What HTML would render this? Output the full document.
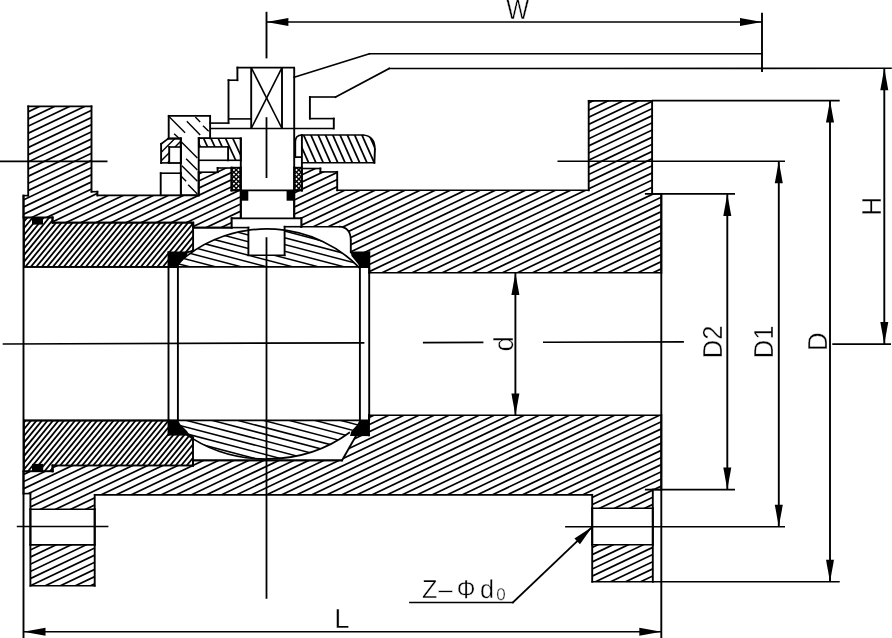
<!DOCTYPE html>
<html><head><meta charset="utf-8"><title>Ball valve</title>
<style>html,body{margin:0;padding:0;background:#fff;}svg{display:block}text{font-family:"Liberation Sans",sans-serif;fill:#000;stroke:#fff;stroke-width:0.4px;text-rendering:geometricPrecision}svg{will-change:transform}</style>
</head><body>
<svg width="892" height="638" viewBox="0 0 892 638" stroke="#000" fill="none" stroke-linecap="butt" stroke-linejoin="miter">
<defs><clipPath id="c1"><path d="M28.20,106.40 L91.50,106.40 L91.50,191.70 L97.40,191.70 L97.40,195.40 L198.70,195.40 L198.70,172.20 L217.60,172.20 L217.60,168.00 L231.50,168.00 L231.50,190.40 L240.80,190.40 L240.80,218.40 L231.70,218.40 L231.70,227.60 L193.30,227.60 L193.30,222.60 L52.60,222.60 L52.60,217.50 L23.50,217.50 L23.50,195.60 L28.20,195.60 Z" clip-rule="evenodd"/></clipPath><clipPath id="c2"><path d="M294.2,190.4 L294.2,218.4 L301.3,218.4 L301.3,226.7 L339,226.7 Q350.8,227.2 350.8,240.5 L350.8,252.3 L369.3,252.3 L369.3,272.7 L661.3,272.7 L661.3,193.9 L652.1,193.9 L652.1,100.9 L588.7,100.9 L588.7,190.3 L337.2,190.3 L337.2,171.9 L320.4,171.9 L320.4,168.5 L301.9,168.5 L301.9,190.4 Z" clip-rule="evenodd"/></clipPath><clipPath id="c3"><path d="M23.5,471.3 L52.6,471.3 L52.6,465.5 L193,465.5 L193,460.4 L342,460.4 L356.3,435.3 L369,435.3 L369,415.2 L661.3,415.2 L661.3,489.6 L652.8,489.6 L652.8,581.7 L592.2,581.7 L592.2,494.9 L94.7,494.9 L94.7,585.7 L30.4,585.7 L30.4,493.6 L23.5,493.6 Z M30.4,509.2 L94.7,509.2 L94.7,544.9 L30.4,544.9 Z M592.2,508.2 L652.8,508.2 L652.8,544.8 L592.2,544.8 Z" clip-rule="evenodd"/></clipPath><clipPath id="c4"><path d="M23.90,217.50 L52.40,217.50 L52.60,222.60 L191.20,222.60 L193.10,224.50 L193.10,250.60 L187.70,252.30 L168.50,252.30 L168.50,266.90 L23.90,266.90 Z" clip-rule="evenodd"/></clipPath><clipPath id="c5"><path d="M23.90,420.60 L168.50,420.60 L168.50,434.80 L189.00,434.80 L193.00,437.50 L193.00,465.50 L52.60,465.50 L52.60,471.30 L23.90,471.30 Z" clip-rule="evenodd"/></clipPath><clipPath id="c6"><path d="M177.5,266.9 L177.5,263.92 A124,115.0 0 0 1 360.0,268.46 L360.0,266.9 Z" clip-rule="evenodd"/></clipPath><clipPath id="c7"><path d="M177.5,420.4 L177.5,427.82 A130.0,115.0 0 0 0 360.0,423.90 L360.0,420.4 Z" clip-rule="evenodd"/></clipPath><clipPath id="c8"><path d="M231.60,167.60 L240.80,167.60 L240.80,190.40 L231.60,190.40 Z" clip-rule="evenodd"/></clipPath><clipPath id="c9"><path d="M231.60,167.60 L240.80,167.60 L240.80,190.40 L231.60,190.40 Z" clip-rule="evenodd"/></clipPath><clipPath id="c10"><path d="M294.20,167.60 L301.80,167.60 L301.80,190.40 L294.20,190.40 Z" clip-rule="evenodd"/></clipPath><clipPath id="c11"><path d="M294.20,167.60 L301.80,167.60 L301.80,190.40 L294.20,190.40 Z" clip-rule="evenodd"/></clipPath><clipPath id="c12"><path d="M198.90,138.30 L240.80,138.30 L240.80,160.30 L228.10,160.30 L228.10,146.90 L198.90,146.90 Z" clip-rule="evenodd"/></clipPath><clipPath id="c13"><path d="M168.70,115.90 L210.10,115.90 L210.10,138.20 L198.70,138.20 L198.70,195.20 L180.80,195.20 L180.80,138.20 L168.70,138.20 Z"/></clipPath><clipPath id="c14"><path d="M161.10,162.90 L161.10,143.90 L167.80,138.90 L180.80,138.90 L180.80,162.90 Z" clip-rule="evenodd"/></clipPath><clipPath id="c15"><path d="M301.9,135.0 L362.8,135.0 Q374.9,135.6 374.9,149.5 L374.4,162.8 L301.9,162.8 Z" clip-rule="evenodd"/></clipPath></defs>
<rect x="0" y="0" width="892" height="638" fill="#fff" stroke="none"/>
<g clip-path="url(#c1)" stroke-width="1.7"><line x1="20.00" y1="101.40" x2="245.00" y2="-5.59"/><line x1="20.00" y1="108.55" x2="245.00" y2="1.57"/><line x1="20.00" y1="115.71" x2="245.00" y2="8.72"/><line x1="20.00" y1="122.87" x2="245.00" y2="15.88"/><line x1="20.00" y1="130.02" x2="245.00" y2="23.03"/><line x1="20.00" y1="137.18" x2="245.00" y2="30.19"/><line x1="20.00" y1="144.33" x2="245.00" y2="37.35"/><line x1="20.00" y1="151.49" x2="245.00" y2="44.50"/><line x1="20.00" y1="158.65" x2="245.00" y2="51.66"/><line x1="20.00" y1="165.80" x2="245.00" y2="58.82"/><line x1="20.00" y1="172.96" x2="245.00" y2="65.97"/><line x1="20.00" y1="180.12" x2="245.00" y2="73.13"/><line x1="20.00" y1="187.27" x2="245.00" y2="80.28"/><line x1="20.00" y1="194.43" x2="245.00" y2="87.44"/><line x1="20.00" y1="201.58" x2="245.00" y2="94.60"/><line x1="20.00" y1="208.74" x2="245.00" y2="101.75"/><line x1="20.00" y1="215.90" x2="245.00" y2="108.91"/><line x1="20.00" y1="223.05" x2="245.00" y2="116.07"/><line x1="20.00" y1="230.21" x2="245.00" y2="123.22"/><line x1="20.00" y1="237.37" x2="245.00" y2="130.38"/><line x1="20.00" y1="244.52" x2="245.00" y2="137.53"/><line x1="20.00" y1="251.68" x2="245.00" y2="144.69"/><line x1="20.00" y1="258.83" x2="245.00" y2="151.85"/><line x1="20.00" y1="265.99" x2="245.00" y2="159.00"/><line x1="20.00" y1="273.15" x2="245.00" y2="166.16"/><line x1="20.00" y1="280.30" x2="245.00" y2="173.32"/><line x1="20.00" y1="287.46" x2="245.00" y2="180.47"/><line x1="20.00" y1="294.62" x2="245.00" y2="187.63"/><line x1="20.00" y1="301.77" x2="245.00" y2="194.78"/><line x1="20.00" y1="308.93" x2="245.00" y2="201.94"/><line x1="20.00" y1="316.08" x2="245.00" y2="209.10"/><line x1="20.00" y1="323.24" x2="245.00" y2="216.25"/><line x1="20.00" y1="330.40" x2="245.00" y2="223.41"/><line x1="20.00" y1="337.55" x2="245.00" y2="230.57"/></g>
<line x1="28.20" y1="106.40" x2="91.50" y2="106.40" stroke-width="1.60" stroke-linecap="square" />
<line x1="91.50" y1="106.40" x2="91.50" y2="191.70" stroke-width="1.90" stroke-linecap="square" />
<line x1="91.50" y1="191.70" x2="97.40" y2="191.70" stroke-width="1.60" stroke-linecap="square" />
<line x1="97.40" y1="191.70" x2="97.40" y2="195.40" stroke-width="1.90" stroke-linecap="square" />
<line x1="97.40" y1="195.40" x2="198.70" y2="195.40" stroke-width="1.60" stroke-linecap="square" />
<line x1="198.70" y1="195.40" x2="198.70" y2="172.20" stroke-width="1.90" stroke-linecap="square" />
<line x1="198.70" y1="172.20" x2="217.60" y2="172.20" stroke-width="1.60" stroke-linecap="square" />
<line x1="217.60" y1="172.20" x2="217.60" y2="168.00" stroke-width="1.90" stroke-linecap="square" />
<line x1="217.60" y1="168.00" x2="231.50" y2="168.00" stroke-width="1.60" stroke-linecap="square" />
<line x1="231.50" y1="168.00" x2="231.50" y2="190.40" stroke-width="1.90" stroke-linecap="square" />
<line x1="231.50" y1="190.40" x2="240.80" y2="190.40" stroke-width="1.60" stroke-linecap="square" />
<line x1="240.80" y1="190.40" x2="240.80" y2="218.40" stroke-width="1.90" stroke-linecap="square" />
<line x1="240.80" y1="218.40" x2="231.70" y2="218.40" stroke-width="1.60" stroke-linecap="square" />
<line x1="231.70" y1="218.40" x2="231.70" y2="227.60" stroke-width="1.90" stroke-linecap="square" />
<line x1="231.70" y1="227.60" x2="193.30" y2="227.60" stroke-width="1.60" stroke-linecap="square" />
<line x1="193.30" y1="227.60" x2="193.30" y2="222.60" stroke-width="1.90" stroke-linecap="square" />
<line x1="193.30" y1="222.60" x2="52.60" y2="222.60" stroke-width="1.60" stroke-linecap="square" />
<line x1="52.60" y1="222.60" x2="52.60" y2="217.50" stroke-width="1.90" stroke-linecap="square" />
<line x1="52.60" y1="217.50" x2="23.50" y2="217.50" stroke-width="1.60" stroke-linecap="square" />
<line x1="23.50" y1="217.50" x2="23.50" y2="195.60" stroke-width="1.90" stroke-linecap="square" />
<line x1="23.50" y1="195.60" x2="28.20" y2="195.60" stroke-width="1.60" stroke-linecap="square" />
<line x1="28.20" y1="195.60" x2="28.20" y2="106.40" stroke-width="1.90" stroke-linecap="square" />
<g clip-path="url(#c2)" stroke-width="1.7"><line x1="290.00" y1="101.82" x2="665.00" y2="-76.49"/><line x1="290.00" y1="108.98" x2="665.00" y2="-69.33"/><line x1="290.00" y1="116.14" x2="665.00" y2="-62.18"/><line x1="290.00" y1="123.29" x2="665.00" y2="-55.02"/><line x1="290.00" y1="130.45" x2="665.00" y2="-47.86"/><line x1="290.00" y1="137.61" x2="665.00" y2="-40.71"/><line x1="290.00" y1="144.76" x2="665.00" y2="-33.55"/><line x1="290.00" y1="151.92" x2="665.00" y2="-26.39"/><line x1="290.00" y1="159.07" x2="665.00" y2="-19.24"/><line x1="290.00" y1="166.23" x2="665.00" y2="-12.08"/><line x1="290.00" y1="173.39" x2="665.00" y2="-4.93"/><line x1="290.00" y1="180.54" x2="665.00" y2="2.23"/><line x1="290.00" y1="187.70" x2="665.00" y2="9.39"/><line x1="290.00" y1="194.86" x2="665.00" y2="16.54"/><line x1="290.00" y1="202.01" x2="665.00" y2="23.70"/><line x1="290.00" y1="209.17" x2="665.00" y2="30.86"/><line x1="290.00" y1="216.32" x2="665.00" y2="38.01"/><line x1="290.00" y1="223.48" x2="665.00" y2="45.17"/><line x1="290.00" y1="230.64" x2="665.00" y2="52.32"/><line x1="290.00" y1="237.79" x2="665.00" y2="59.48"/><line x1="290.00" y1="244.95" x2="665.00" y2="66.64"/><line x1="290.00" y1="252.11" x2="665.00" y2="73.79"/><line x1="290.00" y1="259.26" x2="665.00" y2="80.95"/><line x1="290.00" y1="266.42" x2="665.00" y2="88.11"/><line x1="290.00" y1="273.58" x2="665.00" y2="95.26"/><line x1="290.00" y1="280.73" x2="665.00" y2="102.42"/><line x1="290.00" y1="287.89" x2="665.00" y2="109.58"/><line x1="290.00" y1="295.04" x2="665.00" y2="116.73"/><line x1="290.00" y1="302.20" x2="665.00" y2="123.89"/><line x1="290.00" y1="309.36" x2="665.00" y2="131.04"/><line x1="290.00" y1="316.51" x2="665.00" y2="138.20"/><line x1="290.00" y1="323.67" x2="665.00" y2="145.36"/><line x1="290.00" y1="330.83" x2="665.00" y2="152.51"/><line x1="290.00" y1="337.98" x2="665.00" y2="159.67"/><line x1="290.00" y1="345.14" x2="665.00" y2="166.83"/><line x1="290.00" y1="352.29" x2="665.00" y2="173.98"/><line x1="290.00" y1="359.45" x2="665.00" y2="181.14"/><line x1="290.00" y1="366.61" x2="665.00" y2="188.29"/><line x1="290.00" y1="373.76" x2="665.00" y2="195.45"/><line x1="290.00" y1="380.92" x2="665.00" y2="202.61"/><line x1="290.00" y1="388.08" x2="665.00" y2="209.76"/><line x1="290.00" y1="395.23" x2="665.00" y2="216.92"/><line x1="290.00" y1="402.39" x2="665.00" y2="224.08"/><line x1="290.00" y1="409.54" x2="665.00" y2="231.23"/><line x1="290.00" y1="416.70" x2="665.00" y2="238.39"/><line x1="290.00" y1="423.86" x2="665.00" y2="245.54"/><line x1="290.00" y1="431.01" x2="665.00" y2="252.70"/><line x1="290.00" y1="438.17" x2="665.00" y2="259.86"/><line x1="290.00" y1="445.33" x2="665.00" y2="267.01"/><line x1="290.00" y1="452.48" x2="665.00" y2="274.17"/></g>
<line x1="294.20" y1="190.40" x2="294.20" y2="218.40" stroke-width="1.90" stroke-linecap="square" />
<line x1="294.20" y1="218.40" x2="301.30" y2="218.40" stroke-width="1.60" stroke-linecap="square" />
<line x1="301.30" y1="218.40" x2="301.30" y2="226.70" stroke-width="1.90" stroke-linecap="square" />
<line x1="301.30" y1="226.70" x2="339.00" y2="226.70" stroke-width="1.60" stroke-linecap="square" />
<path d="M339.0,226.7 Q350.8,227.2 350.8,240.5" stroke-width="1.75" fill="none" />
<line x1="350.80" y1="240.50" x2="350.80" y2="252.30" stroke-width="1.90" stroke-linecap="square" />
<line x1="350.80" y1="252.30" x2="369.30" y2="252.30" stroke-width="1.60" stroke-linecap="square" />
<line x1="369.30" y1="252.30" x2="369.30" y2="272.70" stroke-width="1.90" stroke-linecap="square" />
<line x1="369.30" y1="272.70" x2="661.30" y2="272.70" stroke-width="1.60" stroke-linecap="square" />
<line x1="661.30" y1="272.70" x2="661.30" y2="193.90" stroke-width="1.90" stroke-linecap="square" />
<line x1="661.30" y1="193.90" x2="652.10" y2="193.90" stroke-width="1.60" stroke-linecap="square" />
<line x1="652.10" y1="193.90" x2="652.10" y2="100.90" stroke-width="1.90" stroke-linecap="square" />
<line x1="652.10" y1="100.90" x2="588.70" y2="100.90" stroke-width="1.60" stroke-linecap="square" />
<line x1="588.70" y1="100.90" x2="588.70" y2="190.30" stroke-width="1.90" stroke-linecap="square" />
<line x1="588.70" y1="190.30" x2="337.20" y2="190.30" stroke-width="1.60" stroke-linecap="square" />
<line x1="337.20" y1="190.30" x2="337.20" y2="171.90" stroke-width="1.90" stroke-linecap="square" />
<line x1="337.20" y1="171.90" x2="320.40" y2="171.90" stroke-width="1.60" stroke-linecap="square" />
<line x1="320.40" y1="171.90" x2="320.40" y2="168.50" stroke-width="1.90" stroke-linecap="square" />
<line x1="320.40" y1="168.50" x2="301.90" y2="168.50" stroke-width="1.60" stroke-linecap="square" />
<line x1="301.90" y1="168.50" x2="301.90" y2="190.40" stroke-width="1.90" stroke-linecap="square" />
<line x1="301.90" y1="190.40" x2="294.20" y2="190.40" stroke-width="1.60" stroke-linecap="square" />
<g clip-path="url(#c3)" stroke-width="1.7"><line x1="20.00" y1="411.73" x2="665.00" y2="105.03"/><line x1="20.00" y1="418.89" x2="665.00" y2="112.19"/><line x1="20.00" y1="426.04" x2="665.00" y2="119.35"/><line x1="20.00" y1="433.20" x2="665.00" y2="126.50"/><line x1="20.00" y1="440.36" x2="665.00" y2="133.66"/><line x1="20.00" y1="447.51" x2="665.00" y2="140.82"/><line x1="20.00" y1="454.67" x2="665.00" y2="147.97"/><line x1="20.00" y1="461.83" x2="665.00" y2="155.13"/><line x1="20.00" y1="468.98" x2="665.00" y2="162.28"/><line x1="20.00" y1="476.14" x2="665.00" y2="169.44"/><line x1="20.00" y1="483.29" x2="665.00" y2="176.60"/><line x1="20.00" y1="490.45" x2="665.00" y2="183.75"/><line x1="20.00" y1="497.61" x2="665.00" y2="190.91"/><line x1="20.00" y1="504.76" x2="665.00" y2="198.07"/><line x1="20.00" y1="511.92" x2="665.00" y2="205.22"/><line x1="20.00" y1="519.08" x2="665.00" y2="212.38"/><line x1="20.00" y1="526.23" x2="665.00" y2="219.53"/><line x1="20.00" y1="533.39" x2="665.00" y2="226.69"/><line x1="20.00" y1="540.54" x2="665.00" y2="233.85"/><line x1="20.00" y1="547.70" x2="665.00" y2="241.00"/><line x1="20.00" y1="554.86" x2="665.00" y2="248.16"/><line x1="20.00" y1="562.01" x2="665.00" y2="255.32"/><line x1="20.00" y1="569.17" x2="665.00" y2="262.47"/><line x1="20.00" y1="576.33" x2="665.00" y2="269.63"/><line x1="20.00" y1="583.48" x2="665.00" y2="276.78"/><line x1="20.00" y1="590.64" x2="665.00" y2="283.94"/><line x1="20.00" y1="597.79" x2="665.00" y2="291.10"/><line x1="20.00" y1="604.95" x2="665.00" y2="298.25"/><line x1="20.00" y1="612.11" x2="665.00" y2="305.41"/><line x1="20.00" y1="619.26" x2="665.00" y2="312.57"/><line x1="20.00" y1="626.42" x2="665.00" y2="319.72"/><line x1="20.00" y1="633.58" x2="665.00" y2="326.88"/><line x1="20.00" y1="640.73" x2="665.00" y2="334.03"/><line x1="20.00" y1="647.89" x2="665.00" y2="341.19"/><line x1="20.00" y1="655.04" x2="665.00" y2="348.35"/><line x1="20.00" y1="662.20" x2="665.00" y2="355.50"/><line x1="20.00" y1="669.36" x2="665.00" y2="362.66"/><line x1="20.00" y1="676.51" x2="665.00" y2="369.82"/><line x1="20.00" y1="683.67" x2="665.00" y2="376.97"/><line x1="20.00" y1="690.83" x2="665.00" y2="384.13"/><line x1="20.00" y1="697.98" x2="665.00" y2="391.29"/><line x1="20.00" y1="705.14" x2="665.00" y2="398.44"/><line x1="20.00" y1="712.30" x2="665.00" y2="405.60"/><line x1="20.00" y1="719.45" x2="665.00" y2="412.75"/><line x1="20.00" y1="726.61" x2="665.00" y2="419.91"/><line x1="20.00" y1="733.76" x2="665.00" y2="427.07"/><line x1="20.00" y1="740.92" x2="665.00" y2="434.22"/><line x1="20.00" y1="748.08" x2="665.00" y2="441.38"/><line x1="20.00" y1="755.23" x2="665.00" y2="448.54"/><line x1="20.00" y1="762.39" x2="665.00" y2="455.69"/><line x1="20.00" y1="769.55" x2="665.00" y2="462.85"/><line x1="20.00" y1="776.70" x2="665.00" y2="470.00"/><line x1="20.00" y1="783.86" x2="665.00" y2="477.16"/><line x1="20.00" y1="791.01" x2="665.00" y2="484.32"/><line x1="20.00" y1="798.17" x2="665.00" y2="491.47"/><line x1="20.00" y1="805.33" x2="665.00" y2="498.63"/><line x1="20.00" y1="812.48" x2="665.00" y2="505.79"/><line x1="20.00" y1="819.64" x2="665.00" y2="512.94"/><line x1="20.00" y1="826.80" x2="665.00" y2="520.10"/><line x1="20.00" y1="833.95" x2="665.00" y2="527.25"/><line x1="20.00" y1="841.11" x2="665.00" y2="534.41"/><line x1="20.00" y1="848.26" x2="665.00" y2="541.57"/><line x1="20.00" y1="855.42" x2="665.00" y2="548.72"/><line x1="20.00" y1="862.58" x2="665.00" y2="555.88"/><line x1="20.00" y1="869.73" x2="665.00" y2="563.04"/><line x1="20.00" y1="876.89" x2="665.00" y2="570.19"/><line x1="20.00" y1="884.05" x2="665.00" y2="577.35"/><line x1="20.00" y1="891.20" x2="665.00" y2="584.50"/><line x1="20.00" y1="898.36" x2="665.00" y2="591.66"/></g>
<line x1="23.50" y1="471.30" x2="52.60" y2="471.30" stroke-width="1.60" stroke-linecap="square" />
<line x1="52.60" y1="471.30" x2="52.60" y2="465.50" stroke-width="1.90" stroke-linecap="square" />
<line x1="52.60" y1="465.50" x2="193.00" y2="465.50" stroke-width="1.60" stroke-linecap="square" />
<line x1="193.00" y1="465.50" x2="193.00" y2="460.40" stroke-width="1.90" stroke-linecap="square" />
<line x1="193.00" y1="460.40" x2="342.00" y2="460.40" stroke-width="1.60" stroke-linecap="square" />
<line x1="342.00" y1="460.40" x2="356.30" y2="435.30" stroke-width="1.86" stroke-linecap="square" />
<line x1="356.30" y1="435.30" x2="369.00" y2="435.30" stroke-width="1.60" stroke-linecap="square" />
<line x1="369.00" y1="435.30" x2="369.00" y2="415.20" stroke-width="1.90" stroke-linecap="square" />
<line x1="369.00" y1="415.20" x2="661.30" y2="415.20" stroke-width="1.60" stroke-linecap="square" />
<line x1="661.30" y1="415.20" x2="661.30" y2="489.60" stroke-width="1.90" stroke-linecap="square" />
<line x1="661.30" y1="489.60" x2="652.80" y2="489.60" stroke-width="1.60" stroke-linecap="square" />
<line x1="652.80" y1="489.60" x2="652.80" y2="581.70" stroke-width="1.90" stroke-linecap="square" />
<line x1="652.80" y1="581.70" x2="592.20" y2="581.70" stroke-width="1.60" stroke-linecap="square" />
<line x1="592.20" y1="581.70" x2="592.20" y2="494.90" stroke-width="1.90" stroke-linecap="square" />
<line x1="592.20" y1="494.90" x2="94.70" y2="494.90" stroke-width="1.60" stroke-linecap="square" />
<line x1="94.70" y1="494.90" x2="94.70" y2="585.70" stroke-width="1.90" stroke-linecap="square" />
<line x1="94.70" y1="585.70" x2="30.40" y2="585.70" stroke-width="1.60" stroke-linecap="square" />
<line x1="30.40" y1="585.70" x2="30.40" y2="493.60" stroke-width="1.90" stroke-linecap="square" />
<line x1="30.40" y1="493.60" x2="23.50" y2="493.60" stroke-width="1.60" stroke-linecap="square" />
<line x1="23.50" y1="493.60" x2="23.50" y2="471.30" stroke-width="1.90" stroke-linecap="square" />
<line x1="30.40" y1="509.20" x2="94.70" y2="509.20" stroke-width="1.60" stroke-linecap="square" />
<line x1="94.70" y1="509.20" x2="94.70" y2="544.90" stroke-width="1.90" stroke-linecap="square" />
<line x1="94.70" y1="544.90" x2="30.40" y2="544.90" stroke-width="1.60" stroke-linecap="square" />
<line x1="30.40" y1="544.90" x2="30.40" y2="509.20" stroke-width="1.90" stroke-linecap="square" />
<line x1="592.20" y1="508.20" x2="652.80" y2="508.20" stroke-width="1.60" stroke-linecap="square" />
<line x1="652.80" y1="508.20" x2="652.80" y2="544.80" stroke-width="1.90" stroke-linecap="square" />
<line x1="652.80" y1="544.80" x2="592.20" y2="544.80" stroke-width="1.60" stroke-linecap="square" />
<line x1="592.20" y1="544.80" x2="592.20" y2="508.20" stroke-width="1.90" stroke-linecap="square" />
<g clip-path="url(#c4)" stroke-width="1.8"><line x1="20.00" y1="219.67" x2="196.00" y2="4.95"/><line x1="20.00" y1="226.38" x2="196.00" y2="11.66"/><line x1="20.00" y1="233.09" x2="196.00" y2="18.37"/><line x1="20.00" y1="239.80" x2="196.00" y2="25.08"/><line x1="20.00" y1="246.51" x2="196.00" y2="31.79"/><line x1="20.00" y1="253.22" x2="196.00" y2="38.50"/><line x1="20.00" y1="259.93" x2="196.00" y2="45.21"/><line x1="20.00" y1="266.64" x2="196.00" y2="51.92"/><line x1="20.00" y1="273.35" x2="196.00" y2="58.63"/><line x1="20.00" y1="280.06" x2="196.00" y2="65.34"/><line x1="20.00" y1="286.77" x2="196.00" y2="72.05"/><line x1="20.00" y1="293.48" x2="196.00" y2="78.76"/><line x1="20.00" y1="300.19" x2="196.00" y2="85.47"/><line x1="20.00" y1="306.90" x2="196.00" y2="92.18"/><line x1="20.00" y1="313.61" x2="196.00" y2="98.89"/><line x1="20.00" y1="320.32" x2="196.00" y2="105.60"/><line x1="20.00" y1="327.03" x2="196.00" y2="112.31"/><line x1="20.00" y1="333.74" x2="196.00" y2="119.02"/><line x1="20.00" y1="340.45" x2="196.00" y2="125.73"/><line x1="20.00" y1="347.16" x2="196.00" y2="132.44"/><line x1="20.00" y1="353.87" x2="196.00" y2="139.15"/><line x1="20.00" y1="360.58" x2="196.00" y2="145.86"/><line x1="20.00" y1="367.29" x2="196.00" y2="152.57"/><line x1="20.00" y1="374.00" x2="196.00" y2="159.28"/><line x1="20.00" y1="380.71" x2="196.00" y2="165.99"/><line x1="20.00" y1="387.42" x2="196.00" y2="172.70"/><line x1="20.00" y1="394.13" x2="196.00" y2="179.41"/><line x1="20.00" y1="400.84" x2="196.00" y2="186.12"/><line x1="20.00" y1="407.55" x2="196.00" y2="192.83"/><line x1="20.00" y1="414.26" x2="196.00" y2="199.54"/><line x1="20.00" y1="420.97" x2="196.00" y2="206.25"/><line x1="20.00" y1="427.68" x2="196.00" y2="212.96"/><line x1="20.00" y1="434.39" x2="196.00" y2="219.67"/><line x1="20.00" y1="441.10" x2="196.00" y2="226.38"/><line x1="20.00" y1="447.81" x2="196.00" y2="233.09"/><line x1="20.00" y1="454.52" x2="196.00" y2="239.80"/><line x1="20.00" y1="461.23" x2="196.00" y2="246.51"/><line x1="20.00" y1="467.94" x2="196.00" y2="253.22"/><line x1="20.00" y1="474.65" x2="196.00" y2="259.93"/><line x1="20.00" y1="481.36" x2="196.00" y2="266.64"/></g>
<line x1="23.90" y1="217.50" x2="52.40" y2="217.50" stroke-width="1.60" stroke-linecap="square" />
<line x1="52.40" y1="217.50" x2="52.60" y2="222.60" stroke-width="1.90" stroke-linecap="square" />
<line x1="52.60" y1="222.60" x2="191.20" y2="222.60" stroke-width="1.60" stroke-linecap="square" />
<line x1="191.20" y1="222.60" x2="193.10" y2="224.50" stroke-width="1.81" stroke-linecap="square" />
<line x1="193.10" y1="224.50" x2="193.10" y2="250.60" stroke-width="1.90" stroke-linecap="square" />
<line x1="193.10" y1="250.60" x2="187.70" y2="252.30" stroke-width="1.69" stroke-linecap="square" />
<line x1="187.70" y1="252.30" x2="168.50" y2="252.30" stroke-width="1.60" stroke-linecap="square" />
<line x1="168.50" y1="252.30" x2="168.50" y2="266.90" stroke-width="1.90" stroke-linecap="square" />
<line x1="168.50" y1="266.90" x2="23.90" y2="266.90" stroke-width="1.60" stroke-linecap="square" />
<line x1="23.90" y1="266.90" x2="23.90" y2="217.50" stroke-width="1.90" stroke-linecap="square" />
<g clip-path="url(#c5)" stroke-width="1.8"><line x1="20.00" y1="420.61" x2="196.00" y2="205.89"/><line x1="20.00" y1="427.32" x2="196.00" y2="212.60"/><line x1="20.00" y1="434.03" x2="196.00" y2="219.31"/><line x1="20.00" y1="440.74" x2="196.00" y2="226.02"/><line x1="20.00" y1="447.45" x2="196.00" y2="232.73"/><line x1="20.00" y1="454.16" x2="196.00" y2="239.44"/><line x1="20.00" y1="460.87" x2="196.00" y2="246.15"/><line x1="20.00" y1="467.58" x2="196.00" y2="252.86"/><line x1="20.00" y1="474.29" x2="196.00" y2="259.57"/><line x1="20.00" y1="481.00" x2="196.00" y2="266.28"/><line x1="20.00" y1="487.71" x2="196.00" y2="272.99"/><line x1="20.00" y1="494.42" x2="196.00" y2="279.70"/><line x1="20.00" y1="501.13" x2="196.00" y2="286.41"/><line x1="20.00" y1="507.84" x2="196.00" y2="293.12"/><line x1="20.00" y1="514.55" x2="196.00" y2="299.83"/><line x1="20.00" y1="521.26" x2="196.00" y2="306.54"/><line x1="20.00" y1="527.97" x2="196.00" y2="313.25"/><line x1="20.00" y1="534.68" x2="196.00" y2="319.96"/><line x1="20.00" y1="541.39" x2="196.00" y2="326.67"/><line x1="20.00" y1="548.10" x2="196.00" y2="333.38"/><line x1="20.00" y1="554.81" x2="196.00" y2="340.09"/><line x1="20.00" y1="561.52" x2="196.00" y2="346.80"/><line x1="20.00" y1="568.23" x2="196.00" y2="353.51"/><line x1="20.00" y1="574.94" x2="196.00" y2="360.22"/><line x1="20.00" y1="581.65" x2="196.00" y2="366.93"/><line x1="20.00" y1="588.36" x2="196.00" y2="373.64"/><line x1="20.00" y1="595.07" x2="196.00" y2="380.35"/><line x1="20.00" y1="601.78" x2="196.00" y2="387.06"/><line x1="20.00" y1="608.49" x2="196.00" y2="393.77"/><line x1="20.00" y1="615.20" x2="196.00" y2="400.48"/><line x1="20.00" y1="621.91" x2="196.00" y2="407.19"/><line x1="20.00" y1="628.62" x2="196.00" y2="413.90"/><line x1="20.00" y1="635.33" x2="196.00" y2="420.61"/><line x1="20.00" y1="642.04" x2="196.00" y2="427.32"/><line x1="20.00" y1="648.75" x2="196.00" y2="434.03"/><line x1="20.00" y1="655.46" x2="196.00" y2="440.74"/><line x1="20.00" y1="662.17" x2="196.00" y2="447.45"/><line x1="20.00" y1="668.88" x2="196.00" y2="454.16"/><line x1="20.00" y1="675.59" x2="196.00" y2="460.87"/><line x1="20.00" y1="682.30" x2="196.00" y2="467.58"/><line x1="20.00" y1="689.01" x2="196.00" y2="474.29"/></g>
<line x1="23.90" y1="420.60" x2="168.50" y2="420.60" stroke-width="1.60" stroke-linecap="square" />
<line x1="168.50" y1="420.60" x2="168.50" y2="434.80" stroke-width="1.90" stroke-linecap="square" />
<line x1="168.50" y1="434.80" x2="189.00" y2="434.80" stroke-width="1.60" stroke-linecap="square" />
<line x1="189.00" y1="434.80" x2="193.00" y2="437.50" stroke-width="1.77" stroke-linecap="square" />
<line x1="193.00" y1="437.50" x2="193.00" y2="465.50" stroke-width="1.90" stroke-linecap="square" />
<line x1="193.00" y1="465.50" x2="52.60" y2="465.50" stroke-width="1.60" stroke-linecap="square" />
<line x1="52.60" y1="465.50" x2="52.60" y2="471.30" stroke-width="1.90" stroke-linecap="square" />
<line x1="52.60" y1="471.30" x2="23.90" y2="471.30" stroke-width="1.60" stroke-linecap="square" />
<line x1="23.90" y1="471.30" x2="23.90" y2="420.60" stroke-width="1.90" stroke-linecap="square" />
<rect x="32" y="217" width="11" height="7.6" fill="#000" stroke="none"/>
<rect x="32" y="463.9" width="11.2" height="7.4" fill="#000" stroke="none"/>
<g clip-path="url(#c6)" stroke-width="1.5"><line x1="170.00" y1="268.34" x2="365.00" y2="319.43"/><line x1="170.00" y1="261.60" x2="365.00" y2="312.69"/><line x1="170.00" y1="254.87" x2="365.00" y2="305.96"/><line x1="170.00" y1="248.14" x2="365.00" y2="299.23"/><line x1="170.00" y1="241.40" x2="365.00" y2="292.49"/><line x1="170.00" y1="234.67" x2="365.00" y2="285.76"/><line x1="170.00" y1="227.94" x2="365.00" y2="279.03"/><line x1="170.00" y1="221.20" x2="365.00" y2="272.29"/><line x1="170.00" y1="214.47" x2="365.00" y2="265.56"/><line x1="170.00" y1="207.74" x2="365.00" y2="258.83"/><line x1="170.00" y1="201.00" x2="365.00" y2="252.09"/><line x1="170.00" y1="194.27" x2="365.00" y2="245.36"/><line x1="170.00" y1="187.54" x2="365.00" y2="238.63"/><line x1="170.00" y1="180.80" x2="365.00" y2="231.89"/><line x1="170.00" y1="174.07" x2="365.00" y2="225.16"/></g>
<g clip-path="url(#c7)" stroke-width="1.5"><line x1="170.00" y1="463.22" x2="365.00" y2="514.31"/><line x1="170.00" y1="456.49" x2="365.00" y2="507.58"/><line x1="170.00" y1="449.75" x2="365.00" y2="500.84"/><line x1="170.00" y1="443.02" x2="365.00" y2="494.11"/><line x1="170.00" y1="436.29" x2="365.00" y2="487.38"/><line x1="170.00" y1="429.55" x2="365.00" y2="480.64"/><line x1="170.00" y1="422.82" x2="365.00" y2="473.91"/><line x1="170.00" y1="416.09" x2="365.00" y2="467.18"/><line x1="170.00" y1="409.35" x2="365.00" y2="460.44"/><line x1="170.00" y1="402.62" x2="365.00" y2="453.71"/><line x1="170.00" y1="395.89" x2="365.00" y2="446.98"/><line x1="170.00" y1="389.15" x2="365.00" y2="440.24"/><line x1="170.00" y1="382.42" x2="365.00" y2="433.51"/><line x1="170.00" y1="375.69" x2="365.00" y2="426.78"/><line x1="170.00" y1="368.95" x2="365.00" y2="420.04"/></g>
<path d="M184,258.15 A124,115.0 0 0 1 359.5,267.93" stroke-width="1.75" fill="none" />
<path d="M184.7,433.38 A130.0,115.0 0 0 0 349.9,432.22" stroke-width="1.75" fill="none" />
<line x1="23.90" y1="266.90" x2="369.30" y2="266.90" stroke-width="1.60" stroke-linecap="butt" />
<line x1="23.90" y1="420.40" x2="369.30" y2="420.40" stroke-width="1.60" stroke-linecap="butt" />
<line x1="168.50" y1="266.90" x2="168.50" y2="420.40" stroke-width="1.90" stroke-linecap="butt" />
<line x1="177.90" y1="266.90" x2="177.90" y2="420.40" stroke-width="1.90" stroke-linecap="butt" />
<line x1="359.90" y1="266.90" x2="359.90" y2="420.40" stroke-width="1.90" stroke-linecap="butt" />
<line x1="369.20" y1="266.90" x2="369.20" y2="420.40" stroke-width="1.90" stroke-linecap="butt" />
<polygon points="168.5,252.3 187.7,252.3 186.5,256.5 179.5,264 178,268 168.5,268" fill="#000" stroke="none"/>
<polygon points="350.8,252.3 369.3,252.3 369.3,268 360,268 358,264 351.5,256" fill="#000" stroke="none"/>
<polygon points="168.5,419.7 178,419.7 180,424 187,431 189.5,435 168.5,435" fill="#000" stroke="none"/>
<polygon points="369,420 359.8,420 357,425 351.5,431 350,436 369,436" fill="#000" stroke="none"/>
<line x1="193.10" y1="227.60" x2="232.00" y2="227.60" stroke-width="1.60" stroke-linecap="butt" />
<line x1="193.10" y1="460.40" x2="342.00" y2="460.40" stroke-width="1.60" stroke-linecap="butt" />
<path d="M231.7,218.4 L301.3,218.4 L301.3,226.7 L284.6,226.7 L284.6,255.3 L248.4,255.3 L248.4,227.6 L231.7,227.6 Z" fill="#fff" stroke="none"/>
<line x1="248.40" y1="227.60" x2="231.70" y2="227.60" stroke-width="1.60" stroke-linecap="square" />
<line x1="231.70" y1="227.60" x2="231.70" y2="218.40" stroke-width="1.90" stroke-linecap="square" />
<line x1="231.70" y1="218.40" x2="301.30" y2="218.40" stroke-width="1.60" stroke-linecap="square" />
<line x1="301.30" y1="218.40" x2="301.30" y2="226.70" stroke-width="1.90" stroke-linecap="square" />
<line x1="301.30" y1="226.70" x2="284.60" y2="226.70" stroke-width="1.60" stroke-linecap="square" />
<line x1="284.60" y1="226.70" x2="284.60" y2="255.30" stroke-width="1.90" stroke-linecap="square" />
<line x1="284.60" y1="255.30" x2="248.40" y2="255.30" stroke-width="1.60" stroke-linecap="square" />
<line x1="248.40" y1="255.30" x2="248.40" y2="227.60" stroke-width="1.90" stroke-linecap="square" />
<path d="M248.4,230.23 A124,115.0 0 0 1 284.6,230.23" stroke-width="1.75" fill="none" />
<line x1="240.80" y1="138.30" x2="240.80" y2="218.40" stroke-width="1.90" stroke-linecap="butt" />
<line x1="294.20" y1="67.60" x2="294.20" y2="218.40" stroke-width="1.90" stroke-linecap="butt" />
<line x1="240.80" y1="190.40" x2="294.20" y2="190.40" stroke-width="1.60" stroke-linecap="butt" />
<rect x="240.8" y="190.4" width="7.5" height="10.3" fill="#000" stroke="none"/>
<rect x="286.6" y="190.4" width="7.6" height="10.3" fill="#000" stroke="none"/>
<line x1="294.20" y1="67.60" x2="237.40" y2="67.60" stroke-width="1.60" stroke-linecap="square" />
<line x1="237.40" y1="67.60" x2="237.40" y2="80.20" stroke-width="1.90" stroke-linecap="square" />
<line x1="237.40" y1="80.20" x2="228.50" y2="80.20" stroke-width="1.60" stroke-linecap="square" />
<line x1="228.50" y1="80.20" x2="228.50" y2="123.10" stroke-width="1.90" stroke-linecap="square" />
<line x1="228.50" y1="123.10" x2="210.20" y2="123.10" stroke-width="1.60" stroke-linecap="square" />
<line x1="228.50" y1="118.90" x2="251.20" y2="118.90" stroke-width="1.60" stroke-linecap="butt" />
<line x1="210.20" y1="128.50" x2="333.80" y2="128.50" stroke-width="1.60" stroke-linecap="butt" />
<line x1="251.20" y1="67.60" x2="251.20" y2="128.50" stroke-width="1.90" stroke-linecap="butt" />
<line x1="282.00" y1="67.60" x2="282.00" y2="128.50" stroke-width="1.90" stroke-linecap="butt" />
<line x1="251.20" y1="67.60" x2="282.00" y2="128.50" stroke-width="1.60" stroke-linecap="butt" />
<line x1="282.00" y1="67.60" x2="251.20" y2="128.50" stroke-width="1.60" stroke-linecap="butt" />
<line x1="294.20" y1="77.20" x2="369.50" y2="53.80" stroke-width="1.69" stroke-linecap="square" />
<line x1="369.50" y1="53.80" x2="762.00" y2="53.80" stroke-width="1.60" stroke-linecap="square" />
<line x1="891.00" y1="68.30" x2="389.30" y2="68.50" stroke-width="1.60" stroke-linecap="square" />
<line x1="389.30" y1="68.50" x2="335.50" y2="97.00" stroke-width="1.74" stroke-linecap="square" />
<line x1="335.50" y1="97.00" x2="309.90" y2="97.00" stroke-width="1.60" stroke-linecap="square" />
<line x1="309.90" y1="97.00" x2="309.90" y2="118.60" stroke-width="1.90" stroke-linecap="square" />
<line x1="309.90" y1="118.60" x2="333.80" y2="118.60" stroke-width="1.60" stroke-linecap="square" />
<line x1="333.80" y1="118.60" x2="333.80" y2="128.50" stroke-width="1.90" stroke-linecap="square" />
<g clip-path="url(#c8)" stroke-width="1.4"><line x1="231.60" y1="165.30" x2="240.80" y2="156.10"/><line x1="231.60" y1="169.90" x2="240.80" y2="160.70"/><line x1="231.60" y1="174.50" x2="240.80" y2="165.30"/><line x1="231.60" y1="179.10" x2="240.80" y2="169.90"/><line x1="231.60" y1="183.70" x2="240.80" y2="174.50"/><line x1="231.60" y1="188.30" x2="240.80" y2="179.10"/><line x1="231.60" y1="192.90" x2="240.80" y2="183.70"/><line x1="231.60" y1="197.50" x2="240.80" y2="188.30"/><line x1="231.60" y1="202.10" x2="240.80" y2="192.90"/></g>
<g clip-path="url(#c9)" stroke-width="1.4"><line x1="231.60" y1="192.90" x2="240.80" y2="202.10"/><line x1="231.60" y1="188.30" x2="240.80" y2="197.50"/><line x1="231.60" y1="183.70" x2="240.80" y2="192.90"/><line x1="231.60" y1="179.10" x2="240.80" y2="188.30"/><line x1="231.60" y1="174.50" x2="240.80" y2="183.70"/><line x1="231.60" y1="169.90" x2="240.80" y2="179.10"/><line x1="231.60" y1="165.30" x2="240.80" y2="174.50"/><line x1="231.60" y1="160.70" x2="240.80" y2="169.90"/><line x1="231.60" y1="156.10" x2="240.80" y2="165.30"/></g>
<line x1="231.60" y1="167.60" x2="240.80" y2="167.60" stroke-width="1.60" stroke-linecap="square" />
<line x1="240.80" y1="167.60" x2="240.80" y2="190.40" stroke-width="1.90" stroke-linecap="square" />
<line x1="240.80" y1="190.40" x2="231.60" y2="190.40" stroke-width="1.60" stroke-linecap="square" />
<line x1="231.60" y1="190.40" x2="231.60" y2="167.60" stroke-width="1.90" stroke-linecap="square" />
<g clip-path="url(#c10)" stroke-width="1.4"><line x1="294.20" y1="165.30" x2="301.80" y2="157.70"/><line x1="294.20" y1="169.90" x2="301.80" y2="162.30"/><line x1="294.20" y1="174.50" x2="301.80" y2="166.90"/><line x1="294.20" y1="179.10" x2="301.80" y2="171.50"/><line x1="294.20" y1="183.70" x2="301.80" y2="176.10"/><line x1="294.20" y1="188.30" x2="301.80" y2="180.70"/><line x1="294.20" y1="192.90" x2="301.80" y2="185.30"/><line x1="294.20" y1="197.50" x2="301.80" y2="189.90"/></g>
<g clip-path="url(#c11)" stroke-width="1.4"><line x1="294.20" y1="192.90" x2="301.80" y2="200.50"/><line x1="294.20" y1="188.30" x2="301.80" y2="195.90"/><line x1="294.20" y1="183.70" x2="301.80" y2="191.30"/><line x1="294.20" y1="179.10" x2="301.80" y2="186.70"/><line x1="294.20" y1="174.50" x2="301.80" y2="182.10"/><line x1="294.20" y1="169.90" x2="301.80" y2="177.50"/><line x1="294.20" y1="165.30" x2="301.80" y2="172.90"/><line x1="294.20" y1="160.70" x2="301.80" y2="168.30"/></g>
<line x1="294.20" y1="167.60" x2="301.80" y2="167.60" stroke-width="1.60" stroke-linecap="square" />
<line x1="301.80" y1="167.60" x2="301.80" y2="190.40" stroke-width="1.90" stroke-linecap="square" />
<line x1="301.80" y1="190.40" x2="294.20" y2="190.40" stroke-width="1.60" stroke-linecap="square" />
<line x1="294.20" y1="190.40" x2="294.20" y2="167.60" stroke-width="1.90" stroke-linecap="square" />
<g clip-path="url(#c12)" stroke-width="1.7"><line x1="198.00" y1="157.65" x2="241.00" y2="250.10"/><line x1="198.00" y1="141.95" x2="241.00" y2="234.40"/><line x1="198.00" y1="126.26" x2="241.00" y2="218.71"/><line x1="198.00" y1="110.56" x2="241.00" y2="203.01"/><line x1="198.00" y1="94.87" x2="241.00" y2="187.32"/><line x1="198.00" y1="79.18" x2="241.00" y2="171.62"/><line x1="198.00" y1="63.48" x2="241.00" y2="155.93"/><line x1="198.00" y1="47.79" x2="241.00" y2="140.24"/></g>
<line x1="198.90" y1="138.30" x2="240.80" y2="138.30" stroke-width="1.60" stroke-linecap="square" />
<line x1="240.80" y1="138.30" x2="240.80" y2="160.30" stroke-width="1.90" stroke-linecap="square" />
<line x1="240.80" y1="160.30" x2="228.10" y2="160.30" stroke-width="1.60" stroke-linecap="square" />
<line x1="228.10" y1="160.30" x2="228.10" y2="146.90" stroke-width="1.90" stroke-linecap="square" />
<line x1="228.10" y1="146.90" x2="198.90" y2="146.90" stroke-width="1.60" stroke-linecap="square" />
<line x1="198.90" y1="146.90" x2="198.90" y2="138.30" stroke-width="1.90" stroke-linecap="square" />
<line x1="198.90" y1="160.30" x2="228.10" y2="160.30" stroke-width="1.60" stroke-linecap="butt" />
<g clip-path="url(#c13)" stroke-width="1.4">
<line x1="168.7" y1="116.3" x2="185.1" y2="132.8"/>
<line x1="186.8" y1="121.3" x2="200.2" y2="135.1"/>
<line x1="195.3" y1="117.1" x2="200.2" y2="122"/>
<line x1="203" y1="125.8" x2="208.7" y2="131.2"/>
<line x1="174.1" y1="133.7" x2="179" y2="138.2"/>
<line x1="181.2" y1="141.7" x2="197.4" y2="158"/>
<line x1="186.1" y1="158.7" x2="197.4" y2="169.9"/>
<line x1="181.9" y1="165.7" x2="197.4" y2="181.2"/>
<line x1="181.2" y1="176.3" x2="186.1" y2="181.2"/>
<line x1="188.2" y1="184.8" x2="197.4" y2="193.9"/>
</g>
<line x1="168.70" y1="115.90" x2="210.10" y2="115.90" stroke-width="1.60" stroke-linecap="square" />
<line x1="210.10" y1="115.90" x2="210.10" y2="138.20" stroke-width="1.90" stroke-linecap="square" />
<line x1="210.10" y1="138.20" x2="198.70" y2="138.20" stroke-width="1.60" stroke-linecap="square" />
<line x1="198.70" y1="138.20" x2="198.70" y2="195.20" stroke-width="1.90" stroke-linecap="square" />
<line x1="198.70" y1="195.20" x2="180.80" y2="195.20" stroke-width="1.60" stroke-linecap="square" />
<line x1="180.80" y1="195.20" x2="180.80" y2="138.20" stroke-width="1.90" stroke-linecap="square" />
<line x1="180.80" y1="138.20" x2="168.70" y2="138.20" stroke-width="1.60" stroke-linecap="square" />
<line x1="168.70" y1="138.20" x2="168.70" y2="115.90" stroke-width="1.90" stroke-linecap="square" />
<g clip-path="url(#c14)" stroke-width="1.4"><line x1="161.00" y1="143.90" x2="181.00" y2="123.90"/><line x1="161.00" y1="152.40" x2="181.00" y2="132.40"/><line x1="161.00" y1="160.90" x2="181.00" y2="140.90"/><line x1="161.00" y1="169.40" x2="181.00" y2="149.40"/><line x1="161.00" y1="177.90" x2="181.00" y2="157.90"/></g>
<line x1="161.10" y1="162.90" x2="161.10" y2="143.90" stroke-width="1.90" stroke-linecap="square" />
<line x1="161.10" y1="143.90" x2="167.80" y2="138.90" stroke-width="1.78" stroke-linecap="square" />
<line x1="167.80" y1="138.90" x2="180.80" y2="138.90" stroke-width="1.60" stroke-linecap="square" />
<line x1="180.80" y1="138.90" x2="180.80" y2="162.90" stroke-width="1.90" stroke-linecap="square" />
<line x1="180.80" y1="162.90" x2="161.10" y2="162.90" stroke-width="1.60" stroke-linecap="square" />
<rect x="169.2" y="147" width="11.6" height="15.9" fill="#fff" stroke="none"/>
<line x1="169.20" y1="147.00" x2="180.80" y2="147.00" stroke-width="1.60" stroke-linecap="square" />
<line x1="180.80" y1="147.00" x2="180.80" y2="162.90" stroke-width="1.90" stroke-linecap="square" />
<line x1="180.80" y1="162.90" x2="169.20" y2="162.90" stroke-width="1.60" stroke-linecap="square" />
<line x1="169.20" y1="162.90" x2="169.20" y2="147.00" stroke-width="1.90" stroke-linecap="square" />
<rect x="160.7" y="173.2" width="20.1" height="22" fill="#fff" stroke="none"/>
<line x1="160.70" y1="173.20" x2="180.80" y2="173.20" stroke-width="1.60" stroke-linecap="square" />
<line x1="180.80" y1="173.20" x2="180.80" y2="195.20" stroke-width="1.90" stroke-linecap="square" />
<line x1="180.80" y1="195.20" x2="160.70" y2="195.20" stroke-width="1.60" stroke-linecap="square" />
<line x1="160.70" y1="195.20" x2="160.70" y2="173.20" stroke-width="1.90" stroke-linecap="square" />
<g clip-path="url(#c15)" stroke-width="1.75"><line x1="300.00" y1="159.70" x2="377.00" y2="332.95"/><line x1="300.00" y1="143.30" x2="377.00" y2="316.55"/><line x1="300.00" y1="126.90" x2="377.00" y2="300.15"/><line x1="300.00" y1="110.50" x2="377.00" y2="283.75"/><line x1="300.00" y1="94.09" x2="377.00" y2="267.34"/><line x1="300.00" y1="77.69" x2="377.00" y2="250.94"/><line x1="300.00" y1="61.29" x2="377.00" y2="234.54"/><line x1="300.00" y1="44.89" x2="377.00" y2="218.14"/><line x1="300.00" y1="28.48" x2="377.00" y2="201.73"/><line x1="300.00" y1="12.08" x2="377.00" y2="185.33"/><line x1="300.00" y1="-4.32" x2="377.00" y2="168.93"/><line x1="300.00" y1="-20.72" x2="377.00" y2="152.53"/><line x1="300.00" y1="-37.12" x2="377.00" y2="136.12"/></g>
<line x1="301.90" y1="135.00" x2="362.80" y2="135.00" stroke-width="1.60" stroke-linecap="square" />
<path d="M362.8,135.0 Q374.9,135.6 374.9,149.5" stroke-width="1.75" fill="none" />
<line x1="374.90" y1="149.50" x2="374.40" y2="162.80" stroke-width="1.90" stroke-linecap="square" />
<line x1="374.40" y1="162.80" x2="301.90" y2="162.80" stroke-width="1.60" stroke-linecap="square" />
<line x1="301.90" y1="162.80" x2="301.90" y2="135.00" stroke-width="1.90" stroke-linecap="square" />
<path d="M301.9,135.0 Q295.3,135.2 295.3,141.8 L295.3,157 L301.9,157" stroke-width="1.75" fill="none" />
<line x1="301.90" y1="162.80" x2="301.90" y2="167.60" stroke-width="1.90" stroke-linecap="butt" />
<line x1="2.70" y1="344.00" x2="364.40" y2="342.83" stroke-width="1.68" stroke-linecap="butt" />
<line x1="422.90" y1="342.64" x2="483.40" y2="342.45" stroke-width="1.68" stroke-linecap="butt" />
<line x1="543.00" y1="342.25" x2="683.90" y2="341.80" stroke-width="1.68" stroke-linecap="butt" />
<line x1="266.50" y1="11.80" x2="266.50" y2="58.40" stroke-width="1.90" stroke-linecap="butt" />
<line x1="266.50" y1="117.20" x2="266.50" y2="178.00" stroke-width="1.80" stroke-linecap="butt" />
<line x1="266.50" y1="237.20" x2="266.50" y2="598.70" stroke-width="1.80" stroke-linecap="butt" />
<line x1="0.00" y1="161.40" x2="107.50" y2="161.40" stroke-width="1.60" stroke-linecap="butt" />
<line x1="16.80" y1="526.50" x2="108.40" y2="526.50" stroke-width="1.60" stroke-linecap="butt" />
<line x1="557.50" y1="161.20" x2="785.00" y2="161.20" stroke-width="1.60" stroke-linecap="butt" />
<line x1="565.10" y1="526.80" x2="785.00" y2="526.80" stroke-width="1.60" stroke-linecap="butt" />
<line x1="266.40" y1="22.00" x2="762.00" y2="22.00" stroke-width="1.60" stroke-linecap="butt" />
<polygon points="266.40,22.00 288.40,18.00 288.40,26.00" fill="#000" stroke="none"/>
<polygon points="762.00,22.00 740.00,26.00 740.00,18.00" fill="#000" stroke="none"/>
<line x1="762.00" y1="12.80" x2="762.00" y2="72.00" stroke-width="1.90" stroke-linecap="butt" />
<line x1="884.30" y1="68.30" x2="884.30" y2="344.10" stroke-width="1.90" stroke-linecap="butt" />
<polygon points="884.30,68.30 888.30,90.30 880.30,90.30" fill="#000" stroke="none"/>
<polygon points="884.30,344.10 880.30,322.10 888.30,322.10" fill="#000" stroke="none"/>
<line x1="832.30" y1="344.10" x2="891.00" y2="344.10" stroke-width="1.60" stroke-linecap="butt" />
<line x1="830.00" y1="100.60" x2="830.00" y2="581.70" stroke-width="1.90" stroke-linecap="butt" />
<polygon points="830.00,100.60 834.00,122.60 826.00,122.60" fill="#000" stroke="none"/>
<polygon points="830.00,581.70 826.00,559.70 834.00,559.70" fill="#000" stroke="none"/>
<line x1="652.00" y1="100.60" x2="839.70" y2="100.60" stroke-width="1.60" stroke-linecap="butt" />
<line x1="652.80" y1="581.70" x2="839.70" y2="581.70" stroke-width="1.60" stroke-linecap="butt" />
<line x1="778.80" y1="161.20" x2="778.80" y2="526.80" stroke-width="1.90" stroke-linecap="butt" />
<polygon points="778.80,161.20 782.80,183.20 774.80,183.20" fill="#000" stroke="none"/>
<polygon points="778.80,526.80 774.80,504.80 782.80,504.80" fill="#000" stroke="none"/>
<line x1="727.30" y1="193.90" x2="727.30" y2="489.60" stroke-width="1.90" stroke-linecap="butt" />
<polygon points="727.30,193.90 731.30,215.90 723.30,215.90" fill="#000" stroke="none"/>
<polygon points="727.30,489.60 723.30,467.60 731.30,467.60" fill="#000" stroke="none"/>
<line x1="644.90" y1="193.90" x2="735.00" y2="193.90" stroke-width="1.60" stroke-linecap="butt" />
<line x1="644.90" y1="489.60" x2="735.00" y2="489.60" stroke-width="1.60" stroke-linecap="butt" />
<line x1="515.40" y1="272.90" x2="515.40" y2="415.50" stroke-width="1.90" stroke-linecap="butt" />
<polygon points="515.40,272.90 519.40,294.90 511.40,294.90" fill="#000" stroke="none"/>
<polygon points="515.40,415.50 511.40,393.50 519.40,393.50" fill="#000" stroke="none"/>
<line x1="23.50" y1="631.70" x2="661.30" y2="631.70" stroke-width="1.60" stroke-linecap="butt" />
<polygon points="23.50,631.70 45.50,627.70 45.50,635.70" fill="#000" stroke="none"/>
<polygon points="661.30,631.70 639.30,635.70 639.30,627.70" fill="#000" stroke="none"/>
<line x1="23.50" y1="195.60" x2="23.50" y2="638.00" stroke-width="1.90" stroke-linecap="butt" />
<line x1="661.30" y1="193.90" x2="661.30" y2="638.00" stroke-width="1.90" stroke-linecap="butt" />
<line x1="409.90" y1="602.50" x2="512.90" y2="602.50" stroke-width="1.60" stroke-linecap="square" />
<line x1="512.90" y1="602.50" x2="592.40" y2="526.80" stroke-width="1.81" stroke-linecap="square" />
<polygon points="592.40,526.80 579.95,544.18 574.43,538.38" fill="#000" stroke="none"/>
<text x="0" y="0" font-size="28.5" transform="translate(506.2 18.8) scale(0.85 1)">W</text>
<text x="0" y="0" font-size="27.5" transform="translate(334.2 627.8) scale(1.0 1)">L</text>
<text x="0" y="0" font-size="27.5" transform="translate(512.7 351.6) rotate(-90) scale(1.0 1)">d</text>
<text x="0" y="0" font-size="27.5" transform="translate(722.3 358.2) rotate(-90) scale(0.93 1)">D2</text>
<text x="0" y="0" font-size="27.5" transform="translate(772.7 358.2) rotate(-90) scale(0.93 1)">D1</text>
<text x="0" y="0" font-size="27.5" transform="translate(826.5 350.7) rotate(-90) scale(0.93 1)">D</text>
<text x="0" y="0" font-size="27.5" transform="translate(880.8 215.4) rotate(-90) scale(0.93 1)">H</text>
<text x="0" y="0" font-size="26" transform="translate(422 597.5) scale(0.97 1)">Z</text>
<text x="0" y="0" font-size="26" transform="translate(438.5 597.5) scale(0.97 1)">–</text>
<text x="0" y="0" font-size="26" transform="translate(456.8 597.5) scale(0.9 1)">Φ</text>
<text x="0" y="0" font-size="26" transform="translate(480 597.5) scale(0.97 1)">d</text>
<text x="0" y="0" font-size="17" transform="translate(496.3 599.8) scale(1.0 1)">0</text>
</svg>
</body></html>
